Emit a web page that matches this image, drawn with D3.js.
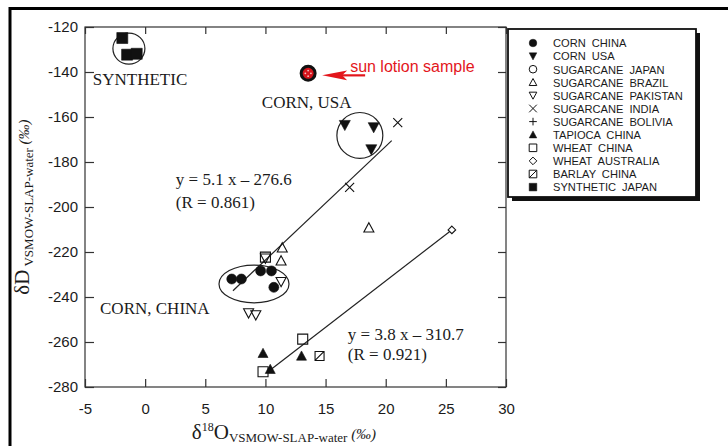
<!DOCTYPE html>
<html>
<head>
<meta charset="utf-8">
<script src="https://cdn.jsdelivr.net/npm/d3@7"></script>
<style>
  body { margin: 0; background: #fff; }
  svg { display: block; }
</style>
</head>
<body>
<svg id="chart" width="728" height="446"></svg>
<script>
// legend categories, in the order of the legend
var categories = ["CORN CHINA", "CORN USA", "SUGARCANE JAPAN", "SUGARCANE BRAZIL",
  "SUGARCANE PAKISTAN", "SUGARCANE INDIA", "SUGARCANE BOLIVIA", "TAPIOCA CHINA",
  "WHEAT CHINA", "WHEAT AUSTRALIA", "BARLAY CHINA", "SYNTHETIC JAPAN"];

// series values: [d18O, dD]
var cornChina = [[7.2, -232.0], [8.0, -232.0], [9.6, -228.4], [10.5, -228.4], [10.7, -235.7]];
var cornUSA = [[16.6, -163.6], [19.0, -164.6], [18.8, -174.4]];
var sugarcaneJapan = [];
var sugarcaneBrazil = [[11.4, -218.1], [11.3, -223.9], [18.6, -209.2]];
var sugarcanePakistan = [[10.0, -222.8], [11.3, -233.2], [8.6, -247.1], [9.2, -248.0]];
var sugarcaneIndia = [[21.0, -162.5], [17.0, -191.3]];
var sugarcaneBolivia = [];
var tapiocaChina = [[9.8, -265.0], [13.0, -266.2], [10.4, -272.1]];
var wheatChina = [[13.1, -258.7], [9.8, -273.2], [10.0, -222.3]];
var wheatAustralia = [[25.5, -210.2]];
var barlayChina = [[14.5, -266.2]];
var syntheticJapan = [[-1.9, -124.9], [-1.5, -132.3], [-0.7, -131.9]];
var sunLotion = [13.55, -140.6];

// regression lines (end points)
var fit1X = [7.3, 20.5], fit1Y = [-237.2, -170.5];
var fit2X = [10.4, 25.3], fit2Y = [-272.4, -211.0];

// tick labels
var xTicks = [-5, 0, 5, 10, 15, 20, 25, 30];
var yTicks = [-120, -140, -160, -180, -200, -220, -240, -260, -280];

var series = [cornChina, cornUSA, sugarcaneJapan, sugarcaneBrazil, sugarcanePakistan,
  sugarcaneIndia, sugarcaneBolivia, tapiocaChina, wheatChina, wheatAustralia, barlayChina, syntheticJapan];
var markers = ["circleFill", "triDownFill", "circleOpen", "triUpOpen", "triDownOpen", "cross",
  "plus", "triUpFill", "squareOpen", "diamondOpen", "squareSlash", "squareFill"];

var svg = d3.select("#chart");
var ink = "#1b1b1b";
var serif = "'Liberation Serif', 'Times New Roman', serif";
var sans = "'Liberation Sans', Arial, sans-serif";

// outer frame of the scanned page
svg.append("path")
  .attr("d", "M10,446 V8.5 H728")
  .attr("fill", "none")
  .attr("stroke", "#000")
  .attr("stroke-width", 3);

var x = d3.scaleLinear().domain([-5, 30]).range([85, 506]);
var y = d3.scaleLinear().domain([-280, -120]).range([387, 27]);

// plain hyphen for negatives, as in the scan
var plain = function(d) { return String(d); };

// axes, ticks pointing inwards
svg.append("g").attr("transform", "translate(" + x(-5) + ",0)")
  .call(d3.axisLeft(y).tickValues(yTicks).tickSize(-9).tickPadding(7).tickFormat(plain));
svg.append("g").attr("transform", "translate(" + x(30) + ",0)")
  .call(d3.axisRight(y).tickValues(yTicks).tickSize(-8).tickFormat(""));
svg.append("g").attr("transform", "translate(0," + y(-280) + ")")
  .call(d3.axisBottom(x).tickValues(xTicks).tickSize(-8).tickPadding(16).tickFormat(plain));
svg.append("g").attr("transform", "translate(0," + y(-120) + ")")
  .call(d3.axisTop(x).tickValues(xTicks).tickSize(-7).tickFormat(""));

svg.selectAll(".domain").remove();
svg.selectAll(".tick line").attr("stroke", "#333").attr("stroke-width", 1.2);
svg.selectAll(".tick text")
  .attr("font-family", sans)
  .attr("font-size", "15px")
  .attr("fill", ink);

svg.append("rect")
  .attr("x", x(-5)).attr("y", y(-120))
  .attr("width", x(30) - x(-5)).attr("height", y(-280) - y(-120))
  .attr("fill", "none").attr("stroke", "#333").attr("stroke-width", 1.2);

// axis titles
var xt = svg.append("text")
  .attr("x", 284).attr("y", 439)
  .attr("text-anchor", "middle")
  .attr("font-family", serif)
  .attr("fill", ink);
xt.append("tspan").attr("font-size", "21px").text("δ");
xt.append("tspan").attr("font-size", "12px").attr("dy", -8).text("18");
xt.append("tspan").attr("font-size", "21px").attr("dy", 8).text("O");
xt.append("tspan").attr("font-size", "13px").attr("dy", 3).text("VSMOW-SLAP-water");
xt.append("tspan").attr("font-size", "15px").attr("dy", -3).attr("font-style", "italic").text(" (‰)");

var yt = svg.append("text")
  .attr("transform", "translate(29," + ((y(-120) + y(-280)) / 2) + ") rotate(-90)")
  .attr("text-anchor", "middle")
  .attr("font-family", serif)
  .attr("fill", ink);
yt.append("tspan").attr("font-size", "21px").text("δD");
yt.append("tspan").attr("font-size", "13px").attr("dy", 4).text(" VSMOW-SLAP-water");
yt.append("tspan").attr("font-size", "15px").attr("dy", -4).attr("font-style", "italic").text(" (‰)");

// marker paths
function markerPath(type, s) {
  var circ = "M" + s + ",0A" + s + "," + s + " 0 1,1 " + (-s) + ",0A" + s + "," + s + " 0 1,1 " + s + ",0Z";
  var sq = "M" + (-s) + "," + (-s) + "H" + s + "V" + s + "H" + (-s) + "Z";
  var h = s * 0.85;
  switch (type) {
    case "circleFill": case "circleOpen": return circ;
    case "triDownFill": case "triDownOpen": return "M0," + s + "L" + s + "," + (-h) + "L" + (-s) + "," + (-h) + "Z";
    case "triUpFill": case "triUpOpen": return "M0," + (-s) + "L" + s + "," + h + "L" + (-s) + "," + h + "Z";
    case "squareOpen": case "squareFill": return sq;
    case "squareSlash": return sq + "M" + (-s) + "," + s + "L" + s + "," + (-s);
    case "diamondOpen": return "M0," + (-s) + "L" + s + ",0L0," + s + "L" + (-s) + ",0Z";
    case "cross": return "M" + (-s) + "," + (-s) + "L" + s + "," + s + "M" + s + "," + (-s) + "L" + (-s) + "," + s;
    case "plus": return "M" + (-s) + ",0H" + s + "M0," + (-s) + "V" + s;
  }
}
function isFilled(type) { return /Fill$/.test(type); }
var markerSize = { circleFill: 5, triDownFill: 5.5, circleOpen: 4.5, triUpOpen: 5, triDownOpen: 5,
  cross: 4.5, plus: 5, triUpFill: 5, squareOpen: 5, diamondOpen: 3.8, squareSlash: 4.5, squareFill: 5.5 };

// ellipses around groups: [cx, cy, rx, ry] in data units
var groupRings = [[-1.35, -129.6, 1.33, 6.9], [17.85, -168.2, 1.91, 10.2], [9.05, -234.2, 2.91, 8.4]];
svg.append("g").selectAll("ellipse")
  .data(groupRings)
  .enter().append("ellipse")
  .attr("cx", function(d) { return x(d[0]); })
  .attr("cy", function(d) { return y(d[1]); })
  .attr("rx", function(d) { return x(d[0] + d[2]) - x(d[0]); })
  .attr("ry", function(d) { return y(d[1] - d[3]) - y(d[1]); })
  .attr("fill", "none").attr("stroke", "#222").attr("stroke-width", 1.2);

// regression lines
var line = d3.line().x(function(d) { return x(d[0]); }).y(function(d) { return y(d[1]); });
[[fit1X, fit1Y], [fit2X, fit2Y]].forEach(function(f) {
  svg.append("path")
    .attr("d", line(d3.zip(f[0], f[1])))
    .attr("fill", "none").attr("stroke", "#222").attr("stroke-width", 1.2);
});

// data points
series.forEach(function(pts, i) {
  var type = markers[i];
  svg.append("g").selectAll("path")
    .data(pts)
    .enter().append("path")
    .attr("transform", function(d) { return "translate(" + x(d[0]) + "," + y(d[1]) + ")"; })
    .attr("d", markerPath(type, markerSize[type]))
    .attr("fill", isFilled(type) ? "#111" : "none")
    .attr("stroke", "#111")
    .attr("stroke-width", isFilled(type) ? 0.6 : 1.1);
});

// in-plot labels
function note(text, dx, dy, size) {
  svg.append("text")
    .attr("x", x(dx)).attr("y", y(dy))
    .attr("font-family", serif).attr("font-size", size + "px")
    .attr("fill", ink)
    .text(text);
}
note("SYNTHETIC", -4.35, -145.8, 17);
note("CORN, USA", 9.7, -156.2, 17);
note("CORN, CHINA", -3.75, -247.6, 17);
note("y = 5.1 x – 276.6", 2.55, -190.2, 17);
note("(R = 0.861)", 2.55, -200.6, 17);
note("y = 3.8 x – 310.7", 16.85, -259.1, 17);
note("(R = 0.921)", 16.85, -268.0, 17);

// sun lotion sample
var sx = x(sunLotion[0]), sy = y(sunLotion[1]);
var sun = svg.append("g").attr("transform", "translate(" + sx + "," + sy + ")");
sun.append("circle").attr("r", 7).attr("fill", "#d4141c").attr("stroke", "#111").attr("stroke-width", 3);
sun.selectAll("circle.dot")
  .data([0, 90, 180, 270])
  .enter().append("circle")
  .attr("class", "dot")
  .attr("cx", function(a) { return 2.8 * Math.cos(a * Math.PI / 180); })
  .attr("cy", function(a) { return 2.8 * Math.sin(a * Math.PI / 180); })
  .attr("r", 0.9).attr("fill", "#f6c0c0");
sun.append("line")
  .attr("x1", 30).attr("y1", 2).attr("x2", 57).attr("y2", 2)
  .attr("stroke", "#e3161c").attr("stroke-width", 2.2);
sun.append("path")
  .attr("d", "M14,2L39,-2.8L34,2L39,6.8Z")
  .attr("fill", "#e3161c");
sun.append("text")
  .attr("x", 42).attr("y", -1)
  .attr("font-family", sans).attr("font-size", "16px")
  .attr("fill", "#e3161c")
  .text("sun lotion sample");

// legend
var lg = svg.append("g").attr("transform", "translate(508,29)");
lg.append("path")
  .attr("d", "M4,170 H190 V4")
  .attr("fill", "none").attr("stroke", "#111").attr("stroke-width", 4);
lg.append("rect")
  .attr("width", 188).attr("height", 168)
  .attr("fill", "#fff").attr("stroke", "#111").attr("stroke-width", 1.8);
var rows = lg.selectAll("g.row")
  .data(categories)
  .enter().append("g")
  .attr("class", "row")
  .attr("transform", function(d, i) { return "translate(0," + (14 + i * 13.1) + ")"; });
rows.append("path")
  .attr("transform", "translate(25,0)")
  .attr("d", function(d, i) { return markerPath(markers[i], 3.8); })
  .attr("fill", function(d, i) { return isFilled(markers[i]) ? "#111" : "none"; })
  .attr("stroke", "#111")
  .attr("stroke-width", function(d, i) { return isFilled(markers[i]) ? 0.5 : 1; });
rows.append("text")
  .attr("transform", "translate(45,4.3) scale(0.96,1)")
  .attr("font-family", sans).attr("font-size", "11.6px")
  .attr("word-spacing", "3px")
  .attr("fill", ink)
  .text(function(d) { return d; });
</script>
</body>
</html>
